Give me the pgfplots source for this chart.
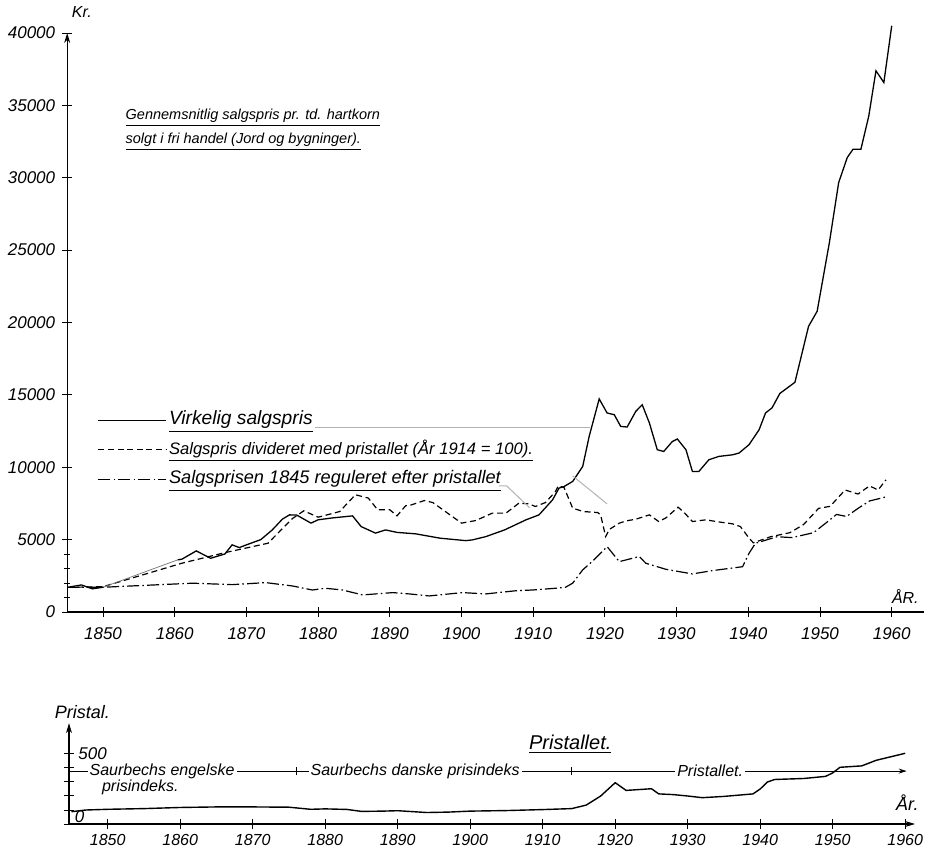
\documentclass[border=0pt]{standalone}
\usepackage{pgfplots}
\pgfplotsset{compat=1.18}
\usepackage{fontspec}
\setmainfont{Liberation Sans}
\usetikzlibrary{arrows.meta}
\tikzset{
  dsh/.style={dash pattern=on 3pt off 1.8pt},
  dshdot/.style={dash pattern=on 6pt off 1.6pt on 0.8pt off 1.6pt},
}
\newcommand{\tf}[1]{\itshape\fontsize{#1}{#1}\selectfont}
\begin{document}
\begin{tikzpicture}[x=1pt,y=1pt]
\useasboundingbox (0,0) rectangle (464,424);
% ================= TOP PANEL =================
\begin{axis}[
  at={(33.6pt,118pt)}, anchor=south west,
  scale only axis, width=428.4pt, height=289.5pt,
  xmin=1845, xmax=1964.5, ymin=0, ymax=40000,
  axis lines=left,
  x axis line style={-, line width=0.6pt},
  y axis line style={-{Stealth[length=5pt,width=3pt]}, line width=0.6pt},
  xtick={1850,1860,...,1960},
  ytick={0,5000,...,40000},
  extra y ticks={1000,2000,3000,4000}, extra y tick labels={},
  extra y tick style={major tick length=3pt},
  tick align=center, major tick length=5pt,
  tick style={line width=0.5pt, black},
  scaled y ticks=false, scaled x ticks=false,
  unbounded coords=jump,
  /pgf/number format/assume math mode=true,
  /pgf/number format/1000 sep={},
  xticklabel style={font=\tf{8.5}, yshift=-2pt},
  yticklabel style={font=\tf{8.5}, xshift=0pt},
  clip=false,
  legend style={at={(axis cs:1849.2,13990)}, anchor=north west, draw=none, fill=none,
    font=\tf{8.5}, row sep=4.25pt, inner sep=0pt,
    nodes={inner sep=1pt, text height=6.5pt, text depth=2pt, anchor=west}},
  legend cell align=left,
  legend image code/.code={\draw[#1] (0pt,0pt) -- (34pt,0pt);},
]
% Virkelig salgspris
\addplot[black, line width=0.65pt] coordinates {
(1845,1700) (1847,1870) (1848.5,1600) (1850,1710) (1855,nan) (1860.4,3600) (1861,3650)
(1863,4220) (1865,3710) (1867,4010) (1868,4640) (1869,4450) (1870,4640)
(1872,5000) (1873.6,5670) (1875,6410) (1876,6710) (1877,6700) (1879,6140)
(1880,6370) (1882,6500) (1884.8,6640) (1886,5900) (1888,5450) (1889.4,5670)
(1891,5500) (1893.6,5400) (1897,5100) (1900.6,4930) (1901.5,4980) (1903.4,5210)
(1906,5670) (1909,6370) (1910.8,6710) (1912.7,7750) (1913.6,8560) (1914.3,8670)
(1915.5,9020) (1916.9,10060) (1917.8,12130) (1919.2,14720) (1920.3,13750)
(1921.3,13630) (1922.2,12820) (1923.1,12780) (1924.3,13860) (1925.2,14320)
(1926.2,13060) (1927.3,11210) (1928.2,11090) (1929.4,11780) (1930.1,11950)
(1931.3,11210) (1932.2,9710) (1933.1,9710) (1934.5,10520) (1935.9,10750)
(1937.8,10860) (1938.7,10980) (1940.1,11560) (1941.5,12590) (1942.4,13750)
(1943.3,14100) (1944.4,15100) (1946.5,15870) (1948.4,19740) (1949.6,20780)
(1951.3,25510) (1952.6,29670) (1953.8,31400) (1954.6,31970) (1955.7,31970)
(1956.8,34270) (1957.8,37390) (1958.9,36580) (1960,40500)
};
\addlegendentry{\fontsize{9.6}{9.6}\selectfont\underline{Virkelig salgspris}}
% Salgspris divideret med pristallet
\addplot[black, line width=0.6pt, dsh] coordinates {
(1845,1700) (1850,1750) (1861,3370) (1867,4100) (1873,4750) (1876.4,6450)
(1878,6990) (1880,6550) (1883,6940) (1885.2,8100) (1887,7870) (1888.3,7060)
(1890,7060) (1891,6640) (1892.2,7340) (1893,7400) (1894.8,7700) (1896,7560)
(1900,6140) (1902,6320) (1904.3,6830) (1906.2,6830) (1908,7520) (1909.4,7470)
(1910.3,7290) (1911.7,7560) (1913.1,8320) (1913.5,8720) (1914.3,8600)
(1915.5,7170) (1917,6940) (1919,6870) (1919.4,6700) (1920.1,5210) (1920.6,5700)
(1922,6140) (1923,6300) (1924.3,6410) (1926.2,6710) (1927.5,6250) (1928.5,6500)
(1930.2,7240) (1931,6900) (1932.2,6250) (1934.1,6370) (1935.5,6250)
(1937.8,6090) (1938.9,5900) (1940.1,5100) (1940.7,4780) (1943.1,5200)
(1945.8,5480) (1947.7,6040) (1949.8,7160) (1951.4,7300) (1953.5,8430)
(1955.3,8150) (1956.9,8710) (1958.1,8430) (1959.2,9130)
};
\addlegendentry{\fontsize{8.3}{8.3}\selectfont\underline{Salgspris divideret med pristallet (År 1914 = 100).}}
% Salgsprisen 1845 reguleret efter pristallet
\addplot[black, line width=0.6pt, dshdot] coordinates {
(1845,1700) (1850,1710) (1862.5,1990) (1868,1890) (1872.7,2030) (1876.4,1800)
(1879.2,1520) (1881,1640) (1883.4,1520) (1886.2,1180) (1890.4,1340)
(1892.7,1250) (1895.5,1110) (1900.1,1340) (1903.4,1250) (1907.6,1470)
(1909.9,1520) (1913.1,1640) (1914.5,1710) (1915.5,1990) (1916.9,2910)
(1918.2,3480) (1920.3,4520) (1922,3480) (1924.8,3830) (1925.7,3370)
(1928.5,2950) (1932.2,2630) (1935,2860) (1939.2,3130) (1940.1,4060)
(1941,4750) (1944,5200) (1946.1,5140) (1949.1,5480) (1950.9,6180)
(1952.3,6740) (1953.7,6600) (1955.3,7160) (1956.9,7670) (1959.2,7950)
};
\addlegendentry{\fontsize{9.1}{9.1}\selectfont\underline{Salgsprisen 1845 reguleret efter pristallet}}
% thin interpolated part of the actual price 1850-1860
\addplot[black!55, line width=0.35pt, forget plot] coordinates {(1850,1710) (1860.4,3600)};
% leader lines
\draw[black!30, line width=0.5pt] (axis cs:1879.6,12780) -- (axis cs:1917.9,12780);
\draw[black!30, line width=0.5pt] (axis cs:1905.2,8710) -- (axis cs:1906.3,8710) -- (axis cs:1909.5,7200);
\draw[black!30, line width=0.5pt] (axis cs:1915.5,9400) -- (axis cs:1920.3,7470);
% texts
\node[anchor=west, inner sep=0pt, font=\tf{7.25}] at (axis cs:1853.1,34140) {\underline{Gennemsnitlig salgspris pr. td. hartkorn}};
\node[anchor=west, inner sep=0pt, font=\tf{7.25}] at (axis cs:1853.1,32480) {\underline{solgt i fri handel (Jord og bygninger).}};
\node[anchor=west, font=\tf{8}, inner sep=0pt] at (axis cs:1845.6,41450) {Kr.};
\node[font=\tf{8}] at (axis cs:1961.9,1050) {ÅR.};
\end{axis}
% ================= BOTTOM PANEL =================
\begin{axis}[
  at={(34.5pt,12pt)}, anchor=south west,
  scale only axis, width=423pt, height=50.4pt,
  xmin=1844.66, xmax=1961.35, ymin=0, ymax=720,
  axis lines=left,
  axis line style={-{Stealth[length=5pt,width=3pt]}, line width=0.6pt},
  xtick={1850,1860,...,1960},
  ytick={0,100,...,500}, yticklabels={},
  tick align=center, major tick length=5pt,
  tick style={line width=0.5pt, black},
  /pgf/number format/assume math mode=true,
  /pgf/number format/1000 sep={},
  xticklabel style={font=\tf{8}, inner sep=0pt, yshift=-2.5pt},
  clip=false,
]
\addplot[black, line width=0.7pt] coordinates {
(1845,88) (1847,100) (1850,105) (1855,110) (1860,118) (1865,122) (1870,122)
(1875,120) (1878,105) (1880,108) (1883,104) (1885,90) (1888,92) (1890,95)
(1894,82) (1897,85) (1900,92) (1905,96) (1910,103) (1914,110) (1916,135)
(1918,200) (1920,295) (1921.5,240) (1923,245) (1925,252) (1926,215)
(1928,210) (1930,200) (1932,188) (1935,197) (1939,215) (1940,250) (1941,300)
(1942,318) (1946,325) (1949,340) (1950,365) (1951,405) (1954,415) (1956,455)
(1958,480) (1960,505)
};
\draw[line width=0.5pt, -{Stealth[length=4pt,width=2.5pt]}] (axis cs:1844.66,378) -- (axis cs:1960.2,378);
\draw[line width=0.5pt] (axis cs:1876,348) -- (axis cs:1876,408);
\draw[line width=0.5pt] (axis cs:1914,348) -- (axis cs:1914,408);
\node[fill=white, inner sep=1pt, font=\tf{8}] at (axis cs:1857.5,378) {Saurbechs engelske};
\node[font=\tf{8}] at (axis cs:1854.5,263) {prisindeks.};
\node[fill=white, inner sep=1pt, font=\tf{8}] at (axis cs:1892.4,378) {Saurbechs danske prisindeks};
\node[fill=white, inner sep=1pt, font=\tf{8}] at (axis cs:1933.1,378) {Pristallet.};
\node[font=\tf{10}] at (axis cs:1913.8,568) {\underline{Pristallet.}};
\node[font=\tf{9}] at (axis cs:1846.5,800) {Pristal.};
\node[anchor=west, inner sep=0pt, font=\tf{8.5}] at (axis cs:1845.9,505) {500};
\node[anchor=west, inner sep=0pt, font=\tf{8.5}] at (axis cs:1845.4,55) {0};
\node[font=\tf{9}] at (axis cs:1960.3,150) {År.};
\end{axis}
\end{tikzpicture}
\end{document}
